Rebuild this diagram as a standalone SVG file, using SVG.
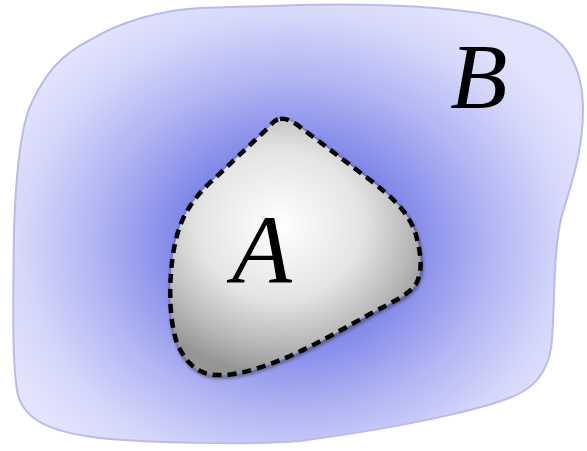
<svg xmlns="http://www.w3.org/2000/svg" width="587" height="451" viewBox="0 0 587 451">
  <defs>
    <radialGradient id="gB" gradientUnits="userSpaceOnUse" cx="0" cy="0" r="1" gradientTransform="translate(292 245) scale(320 270)">
      <stop offset="0" stop-color="#5055d6"/>
      <stop offset="0.35" stop-color="#7f86e8"/>
      <stop offset="0.62" stop-color="#b2b6f3"/>
      <stop offset="0.85" stop-color="#d6d8fa"/>
      <stop offset="1" stop-color="#e3e4fc"/>
    </radialGradient>
    <radialGradient id="gA" gradientUnits="userSpaceOnUse" cx="0" cy="0" r="1" gradientTransform="translate(280 225) scale(165 150)">
      <stop offset="0" stop-color="#ffffff"/>
      <stop offset="0.5" stop-color="#e4e4e4"/>
      <stop offset="0.8" stop-color="#b8b8b8"/>
      <stop offset="1" stop-color="#959595"/>
    </radialGradient>
    <filter id="sh" x="-10%" y="-10%" width="120%" height="120%">
      <feGaussianBlur stdDeviation="1.5"/>
    </filter>
  </defs>
  <style>
    .lbl { font-family: "Liberation Serif", "DejaVu Serif", serif; font-style: italic; fill: #000; }
  </style>
  <g id="B">
    <path d="M300,5 C400,3 480,8 530,25 C568,38 583,70 583,110 C583,150 572,182 562,215 C553,250 555,300 552,340 C550,365 540,382 522,392 C500,405 420,425 300,441 C250,445 150,443 100,438 C50,432 25,420 18,395 C12,370 13,300 14,230 C16,170 22,120 33,100 C45,75 60,55 90,40 C120,22 160,10 200,8 Z" fill="url(#gB)" stroke="#b9bbea" stroke-width="2"/>
    <text class="lbl" x="450" y="108" font-size="94">B</text>
  </g>
  <g id="A">
    <path d="M280,119 C286,118 292,121 300,127 L370,180 C392,197 408,212 415,232 C420,248 424,270 416,284 C408,296 390,303 370,314 C345,328 315,345 290,356 C265,367 240,375 220,375 C198,376 184,362 176,340 C168,315 168,265 178,232 C184,212 196,195 213,180 L268,128 C272,123 276,119 280,119 Z" fill="none" stroke="#333" stroke-width="4" filter="url(#sh)" opacity="0.5" transform="translate(1 2)"/>
    <path d="M280,119 C286,118 292,121 300,127 L370,180 C392,197 408,212 415,232 C420,248 424,270 416,284 C408,296 390,303 370,314 C345,328 315,345 290,356 C265,367 240,375 220,375 C198,376 184,362 176,340 C168,315 168,265 178,232 C184,212 196,195 213,180 L268,128 C272,123 276,119 280,119 Z" fill="url(#gA)" stroke="#000" stroke-width="4.5" stroke-dasharray="9 6"/>
    <text class="lbl" x="232" y="282" font-size="98">A</text>
  </g>
</svg>
